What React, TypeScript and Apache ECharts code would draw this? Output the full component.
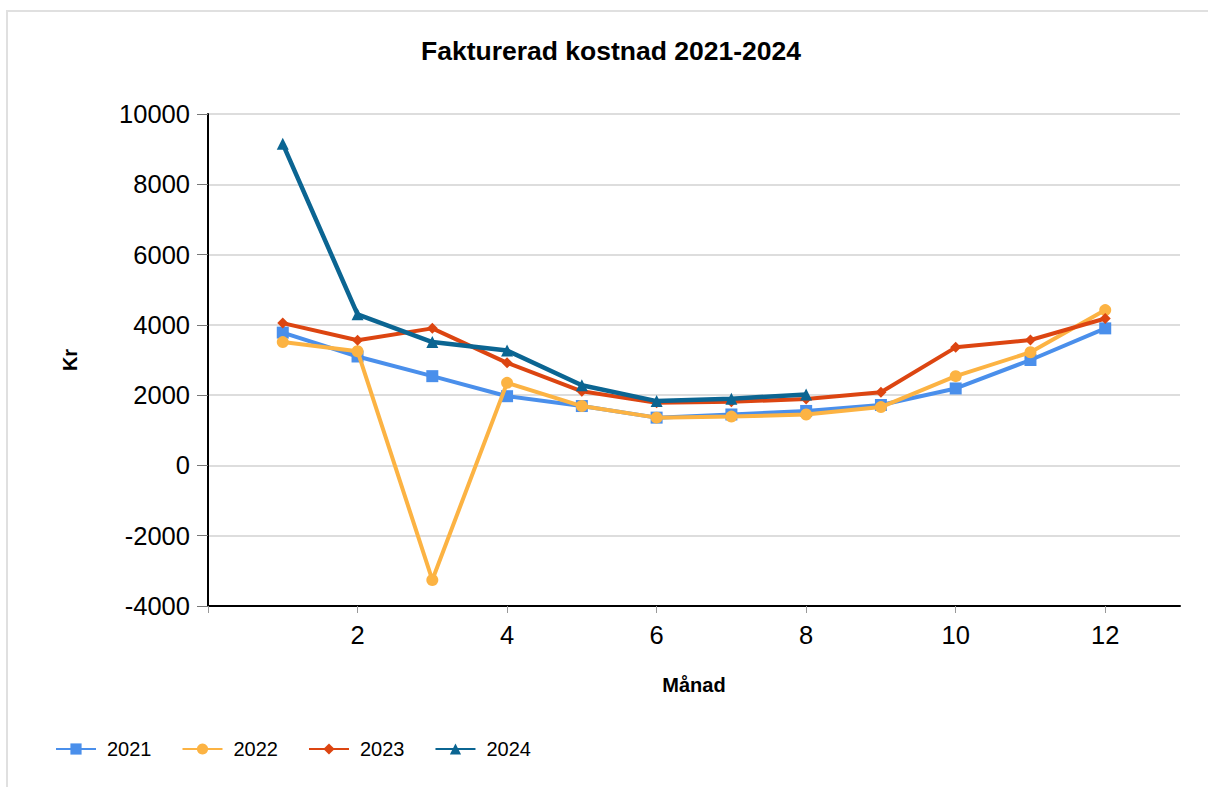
import React, { useEffect, useRef } from "react";
import * as echarts from "echarts";

const months = [1, 2, 3, 4, 5, 6, 7, 8, 9, 10, 11, 12];
const y2021 = [3780, 3100, 2540, 1970, 1690, 1360, 1450, 1550, 1720, 2190, 3000, 3900];
const y2022 = [3510, 3250, -3260, 2350, 1690, 1360, 1390, 1450, 1660, 2540, 3220, 4420];
const y2023 = [4050, 3560, 3900, 2920, 2110, 1780, 1810, 1890, 2080, 3360, 3570, 4180];
const y2024 = [9150, 4300, 3510, 3270, 2280, 1830, 1900, 2020];

const seriesNames = ["2021", "2022", "2023", "2024"];
const seriesData = [y2021, y2022, y2023, y2024];
const colors = ["#4A8FEB", "#FCB343", "#DC4511", "#0B6592"];
const symbols = ["rect", "circle", "diamond", "triangle"];
const symbolSizes = [12, 12, 11, 12];

const FONT = "'Liberation Sans', Arial, sans-serif";

export default function App() {
  const ref = useRef<HTMLDivElement>(null);

  useEffect(() => {
    if (!ref.current) return;
    const chart = echarts.init(ref.current, undefined, { renderer: "svg" });
    chart.setOption({
      animation: false,
      title: {
        text: "Fakturerad kostnad 2021-2024",
        left: 606,
        textAlign: "center",
        top: 32,
        textStyle: { fontFamily: FONT, fontSize: 26.5, fontWeight: "bold", color: "#000" },
      },
      legend: {
        left: 50,
        top: 734,
        itemWidth: 40,
        itemHeight: 14,
        itemGap: 30,
        textStyle: { fontFamily: FONT, fontSize: 20, color: "#000", padding: [0, 0, 0, 6] },
        data: seriesNames,
      },
      grid: { left: 208, right: 28, top: 114, bottom: 181, containLabel: false },
      xAxis: {
        type: "value",
        min: 0,
        max: 13,
        interval: 2,
        name: "Månad",
        nameLocation: "middle",
        nameGap: 69,
        nameTextStyle: { fontFamily: FONT, fontSize: 20, fontWeight: "bold", color: "#000" },
        axisLine: { show: true, onZero: false, lineStyle: { color: "#000", width: 2 } },
        axisTick: { show: true, length: 7, lineStyle: { color: "#999", width: 1 } },
        axisLabel: {
          fontFamily: FONT,
          fontSize: 25.5,
          color: "#000",
          margin: 16,
          showMaxLabel: false,
          formatter: (v: number) => (v === 0 ? "" : String(v)),
        },
        splitLine: { show: false },
      },
      yAxis: {
        type: "value",
        min: -4000,
        max: 10000,
        interval: 2000,
        name: "Kr",
        nameLocation: "middle",
        nameGap: 128,
        nameTextStyle: { fontFamily: FONT, fontSize: 20, fontWeight: "bold", color: "#000" },
        axisLine: { show: true, lineStyle: { color: "#000", width: 2 } },
        axisTick: { show: true, length: 11, lineStyle: { color: "#777", width: 1 } },
        axisLabel: {
          fontFamily: FONT,
          fontSize: 25.5,
          color: "#000",
          margin: 18,
          formatter: (v: number) => String(v),
        },
        splitLine: { show: true, lineStyle: { color: "#dddddd", width: 2 } },
      },
      series: seriesNames.map((name, i) => ({
        name,
        type: "line",
        data: seriesData[i].map((v, j) => [months[j], v]),
        symbol: symbols[i],
        symbolSize: symbolSizes[i],
        showAllSymbol: true,
        color: colors[i],
        lineStyle: { color: colors[i], width: i === 3 ? 4.5 : 4 },
        itemStyle: { color: colors[i] },
        z: 2 + i,
      })),
    });
    return () => chart.dispose();
  }, []);

  return (
    <div style={{ position: "absolute", left: 0, top: 0, width: 1208, height: 787, overflow: "hidden", background: "#fff" }}>
      <div
        style={{
          position: "absolute",
          left: 6,
          top: 10,
          width: 1230,
          height: 820,
          border: "2px solid #e0e0e0",
          boxSizing: "border-box",
        }}
      />
      <div ref={ref} style={{ position: "absolute", left: 0, top: 0, width: 1208, height: 787 }} />
    </div>
  );
}
